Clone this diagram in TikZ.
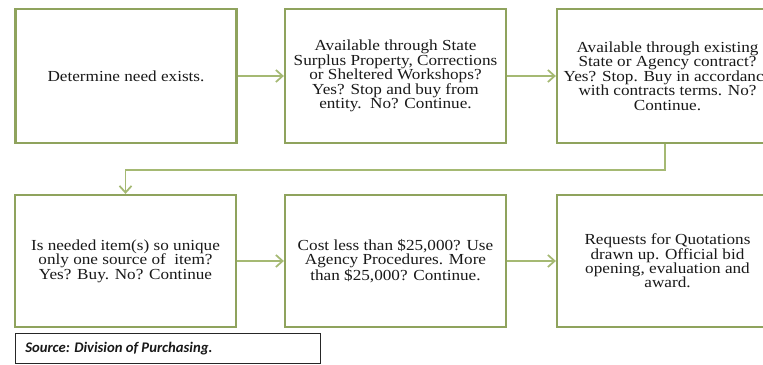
\documentclass[tikz,border=0pt]{standalone}
\usepackage{fontspec}
\setmainfont[FakeStretch=1.12]{Liberation Serif}
\newfontfamily\srcfont{Carlito}
\usetikzlibrary{arrows.meta}
\definecolor{boxgreen}{RGB}{143,163,93}
\definecolor{arrgreen}{RGB}{165,185,115}
\definecolor{txt}{RGB}{25,25,25}
\begin{document}
\begin{tikzpicture}[x=0.75pt,y=-0.75pt,
  box/.style={draw=boxgreen,line width=1.7pt,fill=white,minimum width=165.75pt,
    minimum height=100.5pt,inner sep=0pt,align=center,
    font=\fontsize{11.5}{10.8}\selectfont,text=txt},
  lowbox/.style={box,minimum height=99pt},
  conn/.style={draw=arrgreen,line width=1.3pt,-{Straight Barb[length=5pt,width=9pt]}},
  srcbox/.style={draw=black!85,line width=0.9pt,fill=white,minimum width=228.75pt,
    minimum height=22.5pt,inner sep=0pt,anchor=north west},
  srctext/.style={anchor=west,inner sep=0pt,text=txt,
    font=\srcfont\bfseries\itshape\fontsize{11}{13}\selectfont}]
\clip (0,0) rectangle (763,364);
\fill[white] (0,0) rectangle (763,364);

\node[box] (b1) at (126,76) {\raisebox{-6pt}{Determine need exists.}};
\node[box] (b2) at (395.5,76) {Available through State\\Surplus Property, Corrections\\or Sheltered Workshops?\\Yes? Stop and buy from\\entity.\ \ No? Continue.};
\node[box] (b3) at (667.5,76) {Available through existing\\State or Agency contract?\\Yes? Stop. Buy in accordance\\with contracts terms. No?\\Continue.};

\node[lowbox] (b4) at (125.5,261) {Is needed item(s) so unique\\only one source of \ item?\\Yes? Buy. No? Continue};
\node[lowbox] (b5) at (395.5,261) {Cost less than \$25,000? Use\\Agency Procedures. More\\than \$25,000? Continue.};
\node[lowbox] (b6) at (667.5,261) {Requests for Quotations\\drawn up. Official bid\\opening, evaluation and\\award.};

\coordinate (elb) at (665,170);
\draw[conn] (b1) -- (b2);
\draw[conn] (b2) -- (b3);
\draw[conn] (b3.south -| elb) -- (elb) -| (b4.north);
\draw[conn] (b4) -- (b5);
\draw[conn] (b5) -- (b6);

\node[srcbox] (src) at (15,333) {};
\node[srctext] (srct) at (25,349) {Source: Division of Purchasing.};
\end{tikzpicture}
\end{document}
